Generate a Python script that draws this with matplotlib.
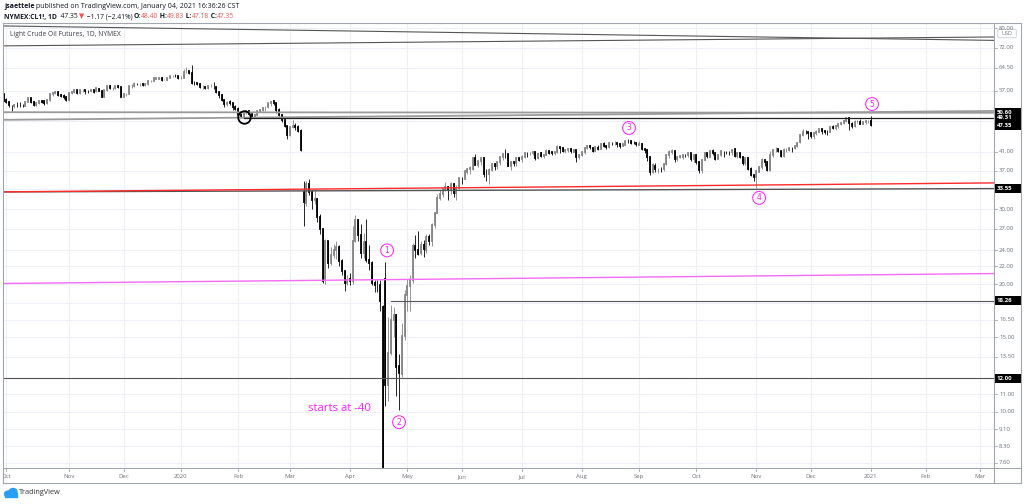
import numpy as np
import pandas as pd
import matplotlib
matplotlib.use("Agg")
import matplotlib.pyplot as plt
from matplotlib.patches import Rectangle, Ellipse, FancyBboxPatch
from matplotlib.transforms import Bbox

plt.rcParams['font.family'] = ['Open Sans', 'DejaVu Sans']

# ---------------- data (CL1! daily, 2019-09-30 .. 2021-01-04) ----------------
opens = [55.9,
 54.1, 53.6, 52.6, 52.4, 52.8, 52.8, 52.6, 52.6, 53.6, 54.7, 53.6, 52.8, 53.4, 53.9, 53.8, 53.3, 54.2, 56.0, 56.2, 56.7, 55.8, 55.5, 55.1,
 54.2, 56.2, 56.5, 57.2, 56.4, 57.1, 57.2, 56.9, 56.8, 57.1, 56.8, 57.7, 57.0, 55.2, 57.1, 58.6, 57.8, 58.0, 58.4, 58.1,
 55.2, 55.9, 56.1, 58.4, 58.4, 59.2, 59.0, 59.2, 58.8, 59.2, 60.1, 60.2, 60.9, 60.9, 61.2, 60.4, 60.5, 61.1, 61.7, 61.7, 61.7,
 61.1, 61.2, 63.1, 63.3, 62.7, 59.6, 59.6, 59.0, 58.1, 58.2, 57.8, 58.5, 58.5, 58.3, 56.7, 55.6, 54.2, 53.1, 53.5, 53.3, 52.1,
 51.6, 50.1, 49.6, 50.8, 51.0, 50.3, 49.6, 49.9, 51.2, 51.4, 52.0, 52.1, 53.3, 53.8, 53.4, 51.4, 49.9, 48.7, 47.1,
 44.8, 46.8, 47.2, 46.8, 45.9, 32.9, 31.1, 34.4, 33.0, 31.5, 31.7, 28.7, 27.0, 20.4, 25.2, 22.4, 23.4, 24.0, 24.5, 22.6, 21.5, 20.1,
 20.5, 20.3, 25.3, 28.3, 26.1, 23.6, 25.1, 22.8, 22.4, 20.1, 19.9, 19.9, 17.7, 20.6, 11.6, 13.8, 16.5, 16.9, 12.8, 12.3, 15.1,
 18.8, 19.8, 20.4, 24.6, 24.0, 23.6, 24.7, 24.1, 25.8, 25.3, 27.6, 29.4, 31.8, 32.5, 33.5, 33.9, 33.3, 34.4, 32.8, 33.7,
 35.5, 35.4, 36.8, 37.3, 37.4, 39.6, 38.2, 38.9, 39.6, 36.3, 36.3, 37.1, 38.4, 38.0, 38.8, 39.8, 40.5, 40.4, 38.0, 38.7, 38.5, 39.7,
 39.3, 39.8, 40.7, 40.6, 40.6, 40.9, 39.6, 40.6, 40.1, 40.3, 41.2, 40.8, 40.6, 40.8, 42.0, 41.9, 41.1, 41.3, 41.6, 41.0, 41.3, 39.9,
 40.3, 41.0, 41.7, 42.2, 41.9, 41.2, 41.9, 41.6, 42.7, 42.2, 42.0, 42.9, 42.9, 42.9, 42.8, 42.3, 42.6, 43.4, 43.4, 43.0, 43.0,
 42.6, 42.8, 41.5, 41.4, 39.8, 36.8, 38.0, 37.3, 37.3, 37.3, 38.3, 40.2, 41.0, 41.1, 39.3, 39.8, 39.9, 40.3, 40.3, 40.6, 39.3,
 40.2, 38.7, 37.1, 39.2, 40.7, 39.9, 41.2, 40.6, 39.4, 40.2, 41.0, 41.0, 40.9, 40.8, 41.5, 40.0, 40.6, 39.9, 38.6, 39.6, 37.4, 36.2,
 35.8, 36.8, 37.7, 39.2, 38.8, 37.1, 40.3, 41.4, 41.5, 41.1, 40.1, 41.3, 41.4, 41.8, 41.7, 42.2, 43.1, 44.9, 45.7, 45.5,
 45.3, 44.6, 45.3, 45.6, 46.3, 45.8, 45.6, 45.5, 46.8, 46.6, 47.0, 47.6, 47.8, 48.4, 49.1, 47.7, 47.0, 48.1, 48.2, 47.6, 48.0, 48.4,
 48.40]

highs = [56.0,
 54.9, 53.9, 52.9, 53.0, 53.7, 53.6, 53.2, 54.0, 55.0, 54.8, 53.8, 53.6, 54.2, 54.2, 54.1, 54.5, 56.0, 56.5, 56.9, 56.9, 56.0, 55.9, 55.3,
 56.3, 56.9, 57.5, 57.3, 57.6, 57.4, 57.3, 57.2, 57.3, 57.3, 57.9, 58.0, 57.2, 57.2, 58.7, 58.7, 58.2, 58.5, 58.7, 58.2,
 56.3, 56.4, 58.6, 59.0, 59.8, 59.5, 59.4, 59.5, 59.6, 60.4, 60.4, 61.1, 61.2, 61.4, 61.4, 60.8, 61.2, 61.8, 62.0, 62.3, 61.9,
 61.6, 64.1, 64.7, 63.5, 65.65, 60.1, 59.9, 59.3, 58.7, 58.4, 58.8, 59.1, 59.7, 58.3, 57.0, 55.9, 54.4, 54.0, 54.3, 53.4, 52.8,
 52.1, 50.6, 51.3, 51.4, 51.3, 50.6, 50.3, 51.5, 51.7, 52.2, 52.4, 53.4, 54.0, 53.9, 53.4, 51.8, 50.3, 48.9, 47.3,
 47.0, 48.7, 47.8, 47.4, 46.4, 34.9, 34.9, 35.3, 33.3, 33.4, 31.8, 29.3, 27.0, 25.5, 25.3, 24.4, 24.8, 25.2, 24.7, 22.9, 21.6, 21.0,
 21.2, 27.4, 29.1, 28.4, 27.7, 26.4, 28.4, 24.7, 22.7, 20.4, 20.4, 20.4, 17.9, 22.5, 16.7, 17.9, 17.7, 17.0, 13.7, 16.2, 19.4,
 20.5, 21.0, 25.0, 26.1, 26.7, 25.2, 25.4, 26.2, 26.3, 27.8, 29.5, 32.5, 33.3, 33.6, 34.7, 34.0, 34.8, 34.5, 34.2, 35.5,
 35.7, 37.1, 37.6, 37.9, 39.6, 40.4, 39.0, 39.6, 39.7, 37.3, 37.5, 38.5, 38.6, 39.0, 40.0, 40.6, 41.6, 40.6, 38.9, 39.0, 39.8, 39.8,
 40.2, 40.8, 41.0, 41.0, 41.1, 41.0, 40.6, 41.0, 40.5, 41.5, 41.4, 41.0, 41.0, 42.5, 42.1, 42.1, 41.6, 41.7, 41.8, 41.6, 41.3, 40.4,
 41.2, 41.9, 42.6, 42.4, 42.0, 42.0, 42.4, 42.9, 43.1, 42.5, 42.9, 43.2, 43.5, 43.0, 42.9, 43.0, 43.5, 43.8, 43.6, 43.4, 43.1,
 43.4, 42.9, 41.9, 41.5, 39.8, 38.5, 38.5, 37.6, 37.7, 38.5, 40.5, 41.3, 41.5, 41.2, 40.0, 40.3, 40.4, 40.5, 40.9, 40.7, 40.3,
 40.4, 38.9, 39.4, 40.9, 40.7, 41.4, 41.6, 40.6, 40.4, 41.3, 41.1, 41.1, 41.2, 41.6, 41.8, 40.8, 40.7, 39.9, 39.8, 39.6, 37.7, 36.2,
 37.1, 38.0, 39.5, 39.2, 38.9, 41.1, 41.6, 42.0, 41.8, 41.2, 41.7, 41.8, 42.1, 42.0, 42.4, 43.2, 45.2, 46.3, 46.0, 45.6,
 45.7, 45.4, 46.2, 46.6, 46.4, 45.9, 46.2, 47.0, 47.3, 47.3, 47.8, 48.0, 48.6, 49.3, 49.2, 48.0, 48.6, 48.6, 48.9, 48.4, 48.6, 48.6,
 49.83]

lows = [53.9,
 53.3, 52.1, 50.99, 52.0, 52.3, 52.2, 52.2, 52.4, 53.5, 53.3, 52.4, 52.6, 53.1, 53.4, 52.9, 53.2, 53.9, 55.3, 55.9, 55.4, 55.0, 54.6, 53.9,
 54.0, 55.9, 56.3, 56.1, 55.9, 56.6, 56.1, 56.3, 56.5, 56.4, 56.6, 56.9, 55.0, 55.0, 56.9, 57.4, 57.2, 57.6, 57.8, 55.0,
 55.1, 55.4, 56.0, 57.9, 58.2, 58.9, 58.6, 58.5, 58.4, 58.9, 59.9, 60.1, 60.6, 60.6, 60.2, 60.3, 60.4, 61.0, 61.4, 61.5, 60.6,
 60.6, 61.1, 62.6, 62.3, 59.2, 58.8, 58.9, 57.9, 57.6, 57.4, 57.6, 58.3, 57.7, 56.3, 54.8, 53.9, 52.1, 52.6, 52.9, 51.3, 51.3,
 49.9, 49.31, 49.5, 50.2, 50.0, 49.4, 49.4, 49.9, 50.9, 51.1, 51.2, 52.0, 52.6, 52.7, 50.4, 49.6, 48.2, 46.9, 44.0,
 44.6, 46.5, 46.2, 45.5, 41.1, 27.34, 30.6, 32.4, 30.0, 30.8, 28.0, 26.3, 20.1, 20.0, 21.8, 22.2, 23.0, 22.9, 22.1, 21.0, 19.27, 19.9,
 19.9, 20.0, 25.1, 25.3, 23.0, 23.0, 22.5, 21.6, 19.9, 19.2, 19.2, 17.3, -40.3, 10.3, 10.6, 13.6, 15.0, 10.9, 10.1, 12.1, 14.8,
 17.3, 17.3, 20.1, 23.0, 23.4, 23.4, 23.1, 23.6, 24.7, 24.6, 27.1, 29.4, 31.5, 32.0, 33.1, 31.6, 32.6, 32.1, 31.5, 33.4,
 34.4, 35.3, 36.4, 36.3, 37.2, 38.1, 37.7, 38.2, 35.8, 34.9, 34.4, 37.0, 37.1, 37.4, 38.2, 39.1, 39.5, 37.9, 37.1, 37.9, 38.0, 38.9,
 38.8, 39.7, 39.9, 40.2, 40.3, 39.1, 39.3, 39.9, 39.5, 40.2, 40.4, 40.3, 40.2, 40.7, 40.6, 40.8, 40.6, 40.8, 40.7, 40.9, 38.7, 39.4,
 40.1, 40.5, 41.6, 41.6, 40.9, 41.1, 41.3, 41.5, 42.0, 41.5, 41.8, 42.5, 42.5, 42.0, 41.9, 42.2, 42.5, 43.0, 42.7, 42.7, 42.3,
 42.4, 41.4, 40.7, 39.0, 36.1, 36.5, 36.8, 36.6, 36.8, 36.9, 38.1, 39.6, 40.5, 38.8, 38.9, 39.5, 39.3, 39.8, 39.9, 38.9, 38.7,
 38.3, 36.6, 36.6, 39.2, 39.5, 39.8, 40.3, 39.2, 39.3, 40.0, 39.8, 40.5, 40.3, 40.3, 39.9, 39.7, 39.5, 38.2, 38.2, 37.2, 35.9, 34.9,
 33.64, 36.7, 37.3, 38.0, 36.9, 37.0, 39.9, 41.0, 40.9, 39.8, 39.9, 40.8, 41.2, 40.9, 41.5, 42.0, 42.9, 44.7, 45.1, 43.9,
 44.1, 43.9, 44.8, 45.5, 45.1, 45.2, 44.9, 45.5, 46.3, 46.2, 46.6, 47.3, 47.6, 48.0, 46.2, 46.7, 46.8, 47.8, 47.5, 47.6, 47.7, 47.9,
 47.18]

closes = [54.07,
 53.62, 52.64, 52.45, 52.81, 52.75, 52.63, 52.59, 53.55, 54.70, 53.59, 52.81, 53.36, 53.93, 53.78, 53.31, 54.16, 55.97, 56.23, 56.66, 55.81, 55.54, 55.06, 54.18,
 56.20, 56.54, 57.23, 56.35, 57.15, 57.24, 56.86, 56.80, 57.12, 56.77, 57.72, 57.05, 55.21, 57.11, 58.58, 57.77, 58.01, 58.41, 58.11, 55.17,
 55.96, 56.10, 58.43, 58.43, 59.20, 59.02, 59.24, 58.76, 59.18, 60.07, 60.21, 60.94, 60.93, 61.22, 60.44, 60.52, 61.11, 61.68, 61.72, 61.68, 61.06,
 61.18, 63.05, 63.27, 62.70, 59.61, 59.56, 59.04, 58.08, 58.23, 57.81, 58.52, 58.54, 58.34, 56.74, 55.59, 54.19, 53.14, 53.48, 53.33, 52.14, 51.56,
 50.11, 49.61, 50.75, 50.95, 50.32, 49.57, 49.94, 51.17, 51.42, 52.05, 52.05, 53.29, 53.78, 53.38, 51.43, 49.90, 48.73, 47.09, 44.76,
 46.75, 47.18, 46.78, 45.90, 41.28, 31.13, 34.36, 32.98, 31.50, 31.73, 28.70, 26.95, 20.37, 25.22, 22.43, 23.36, 24.01, 24.49, 22.60, 21.51, 20.09, 20.48,
 20.31, 25.32, 28.34, 26.08, 23.63, 25.09, 22.76, 22.41, 20.11, 19.87, 19.87, 18.27, -37.63, 11.57, 13.78, 16.50, 16.94, 12.78, 12.34, 15.06, 18.84,
 19.78, 20.39, 24.56, 23.99, 23.55, 24.74, 24.14, 25.78, 25.29, 27.56, 29.43, 31.82, 32.50, 33.49, 33.92, 33.25, 34.35, 32.81, 33.71, 35.49,
 35.44, 36.81, 37.29, 37.41, 39.55, 38.19, 38.94, 39.60, 36.34, 36.26, 37.12, 38.38, 37.96, 38.84, 39.75, 40.46, 40.37, 38.01, 38.72, 38.49, 39.70, 39.27,
 39.82, 40.65, 40.63, 40.62, 40.90, 39.62, 40.55, 40.10, 40.29, 41.20, 40.75, 40.59, 40.81, 41.96, 41.90, 41.07, 41.29, 41.60, 41.04, 41.27, 39.92, 40.27,
 41.01, 41.70, 42.19, 41.95, 41.22, 41.94, 41.61, 42.67, 42.24, 42.01, 42.89, 42.89, 42.93, 42.82, 42.34, 42.62, 43.35, 43.39, 43.04, 42.97, 42.61,
 42.76, 41.51, 41.37, 39.77, 36.76, 38.05, 37.30, 37.33, 37.26, 38.28, 40.16, 40.97, 41.11, 39.31, 39.80, 39.93, 40.31, 40.25, 40.60, 39.29, 40.22,
 38.72, 37.05, 39.22, 40.67, 39.95, 41.19, 40.60, 39.43, 40.20, 41.04, 40.96, 40.88, 40.83, 41.46, 40.03, 40.64, 39.85, 38.56, 39.57, 37.39, 36.17, 35.79,
 36.81, 37.66, 39.15, 38.79, 37.14, 40.29, 41.36, 41.45, 41.12, 40.13, 41.34, 41.43, 41.82, 41.74, 42.15, 43.06, 44.91, 45.71, 45.53, 45.34,
 44.55, 45.28, 45.64, 46.26, 45.76, 45.60, 45.52, 46.78, 46.57, 46.99, 47.62, 47.82, 48.36, 49.10, 47.74, 47.02, 48.12, 48.23, 47.62, 48.00, 48.40, 48.52,
 47.35]

first_day = "2019-09-30"
last_axis_day = "2021-03-31"
holidays = ["2019-11-28", "2019-12-25", "2020-01-01", "2020-01-20", "2020-02-17",
            "2020-04-10", "2020-05-25", "2020-07-03", "2020-09-07", "2020-11-26",
            "2020-12-25", "2021-01-01"]
month_labels = ["Oct", "Nov", "Dec", "2020", "Feb", "Mar", "Apr", "May", "Jun", "Jul",
                "Aug", "Sep", "Oct", "Nov", "Dec", "2021", "Feb", "Mar"]

price_ticks = [80.0, 72.0, 64.5, 57.0, 41.0, 37.0, 30.0, 27.0, 24.0, 22.0, 20.0,
               16.5, 15.0, 13.5, 11.0, 10.0, 9.1, 8.3, 7.6]
hidden_grid = [48.5, 33.5, 18.0, 12.0]
price_labels = [50.60, 49.31, 47.35, 33.55, 18.26, 12.00]

# drawn lines: (x0, x1) in bar index, (p0, p1) in price
X_EDGES = (-0.2, 363.1)
top_line_a = (81.0, 74.9)
top_line_b = (72.7, 76.3)
gray_line_1 = (50.75, 50.6)
gray_line_2 = (48.7, 51.1)
black_level = 49.31
black_level_start = 88
red_line = (32.95, 34.6)
dark_line = (32.95, 33.55)
magenta_line = (20.06, 21.17)
level_1826 = 18.26
level_1826_start = 142
level_12 = 12.00
circle_pt = (88, 49.45)

wave_labels = ["1", "2", "3", "4", "5"]
wave_x = [140.6, 145.0, 229.3, 277.0, 318.4]
wave_p = [24.0, 9.46, 46.6, 31.9, 53.05]
note_text = "starts at -40"
note_pos = (111.6, 10.2)

# ---------------- calendar ----------------
cal = pd.bdate_range(first_day, last_axis_day)
hol = pd.to_datetime(holidays)
cal = cal[~cal.isin(hol)]
n = len(closes)
month_key = cal.year * 12 + cal.month
month_idx = [i for i in range(1, len(cal)) if month_key[i] != month_key[i - 1]]

# ---------------- figure ----------------
W, H = 1024, 504
fig = plt.figure(figsize=(W / 100, H / 100), dpi=100)
fig.patch.set_facecolor("white")
L, R, T, B = 3, 994, 23, 468
ax = fig.add_axes([L / W, 1 - B / H, (R - L) / W, (B - T) / H])
ax.set_yscale("log")
YMIN, YMAX = 7.38, 82.3
ax.set_ylim(YMIN, YMAX)
ax.set_xlim(*X_EDGES)
ax.minorticks_off()
for s in ax.spines.values():
    s.set_visible(False)
ax.set_xticks(month_idx)
ax.set_yticks(price_ticks + hidden_grid)
ax.tick_params(left=False, right=False, bottom=False, top=False,
               labelleft=False, labelbottom=False)
ax.grid(True, color="#edf1f7", lw=0.8)
ax.set_axisbelow(True)

# candles
o = np.array(opens); h = np.array(highs); l = np.array(lows); c = np.array(closes)
floor = 1.0
x = np.arange(n)
oc_lo = np.maximum(np.minimum(o, c), floor)
oc_hi = np.maximum(np.maximum(o, c), floor)
lo = np.maximum(l, floor)
up = c >= o
UPC, DNC = "#858585", "#000000"
for mask, col in ((up, UPC), (~up, DNC)):
    ax.vlines(x[mask], lo[mask], h[mask], color=col, lw=0.6, zorder=3)
    bc = ax.vlines(x[mask], oc_lo[mask], oc_hi[mask], color=col, lw=1.3, zorder=4)
    bc.set_capstyle("projecting")

# lines
ax.plot(X_EDGES, top_line_a, color="#555555", lw=0.8, zorder=5)
ax.plot(X_EDGES, top_line_b, color="#555555", lw=0.8, zorder=5)
ax.plot(X_EDGES, gray_line_1, color="#9a9a9a", lw=1.3, zorder=5)
ax.plot(X_EDGES, gray_line_2, color="#9a9a9a", lw=1.3, zorder=5)
ax.plot([black_level_start, X_EDGES[1]], [black_level, black_level], color="#222222", lw=0.9, zorder=5)
ax.plot(X_EDGES, dark_line, color="#555555", lw=1.0, zorder=5)
ax.plot(X_EDGES, red_line, color="#ff2a2a", lw=1.0, zorder=6)
ax.plot(X_EDGES, magenta_line, color="#f46cf4", lw=1.0, zorder=5)
ax.plot([level_1826_start, X_EDGES[1]], [level_1826, level_1826], color="#555555", lw=0.8, zorder=5)
ax.plot(X_EDGES, [level_12, level_12], color="#555555", lw=0.8, zorder=5)
ax.plot([circle_pt[0]], [circle_pt[1]], marker="o", ms=9, mfc="none", mec="#000000", mew=1.3, zorder=7)

MAG = "#ff1aff"
for lab, wx, wp in zip(wave_labels, wave_x, wave_p):
    ax.text(wx, wp, lab, color=MAG, fontsize=5.5, ha="center", va="center", zorder=8,
            family=["DejaVu Sans"],
            bbox=dict(boxstyle="circle,pad=0.25", fc="white", ec=MAG, lw=0.7))
ax.text(note_pos[0], note_pos[1], note_text, color=MAG, fontsize=8.2, ha="left", va="center", zorder=8)

# ---------------- overlay in pixel coords ----------------
ov = fig.add_axes([0, 0, 1, 1], zorder=10)
ov.set_xlim(0, W); ov.set_ylim(H, 0); ov.axis("off"); ov.patch.set_visible(False)

def ypix(p):
    return H - ax.transData.transform((0, p))[1]

def xpix(i):
    return ax.transData.transform((i, 1))[0]

FR = "#a3a6af"
ov.plot([L, 1021], [T, T], color=FR, lw=0.8)
ov.plot([L, 1021], [483, 483], color=FR, lw=0.8)
ov.plot([L, L], [T, 483], color=FR, lw=0.8)
ov.plot([1021, 1021], [T, 483], color=FR, lw=0.8)
ov.plot([R, R], [T, 483], color=FR, lw=0.8)
ov.plot([L, 1021], [B, B], color=FR, lw=0.8)

AX_TXT = "#6f717a"
for p in price_ticks:
    yp = ypix(p)
    ov.plot([R, R + 3], [yp, yp], color=FR, lw=0.6)
    ov.text(R + 5, yp, f"{p:.2f}", fontsize=4.3, color=AX_TXT, ha="left", va="center")

# USD box
ov.add_patch(FancyBboxPatch((998, 29.5), 18, 8, boxstyle="round,pad=0.3,rounding_size=1.5",
                            fc="white", ec="#c9cbd1", lw=0.6))
ov.text(1007, 33.6, "USD", fontsize=3.9, color=AX_TXT, ha="center", va="center")

# price label boxes
for p in price_labels:
    yp = ypix(p)
    ov.add_patch(Rectangle((R, yp - 4.6), 1021 - R, 9.2, fc="#000000", ec="none"))
for p in price_labels:
    yp = ypix(p)
    ov.text(R + 3, yp, f"{p:.2f}", fontsize=4.3, color="white", ha="left", va="center",
            weight="bold")

# date labels
clip = Bbox.from_extents(L, 0, 1021, H)
for i, lab in zip(month_idx, month_labels):
    xp = xpix(i)
    ov.plot([xp, xp], [B, B + 2.5], color=FR, lw=0.6)
    t = ov.text(xp, 476.5, lab, fontsize=4.3, color=AX_TXT, ha="center", va="center")
    t.set_clip_box(clip)
    t.set_clip_on(True)

# header
fig.canvas.draw()
rend = fig.canvas.get_renderer()

def seq(x0, y0, parts, size=5.0):
    xcur = x0
    for txt, col, wt in parts:
        t = ov.text(xcur, y0, txt, fontsize=size, color=col, weight=wt, ha="left", va="center")
        bb = t.get_window_extent(rend)
        xcur += bb.width

DARK = "#131722"
RED = "#ef5350"
seq(4, 6.5, [("jsaettele", DARK, "bold"),
             (" published on TradingView.com, January 04, 2021 16:36:26 CST", DARK, "normal")])
seq(4, 17, [("NYMEX:CL1!, 1D", DARK, "bold"), ("  47.35 ", DARK, "normal"), ("\u25bc", RED, "normal"),
            (" \u22121.17 (\u22122.41%) ", DARK, "normal"),
            ("O:", DARK, "bold"), ("48.40", RED, "normal"),
            (" H:", DARK, "bold"), ("49.83", RED, "normal"),
            (" L:", DARK, "bold"), ("47.18", RED, "normal"),
            (" C:", DARK, "bold"), ("47.35", RED, "normal")], size=4.9)
ov.text(10, 35, "Light Crude Oil Futures, 1D, NYMEX", fontsize=4.9, color="#3c3f48",
        ha="left", va="center")

# TradingView logo
BLUE = "#2a9df4"
ov.add_patch(Ellipse((8.5, 494), 8, 6, color=BLUE))
ov.add_patch(Ellipse((13, 492), 8, 7, color=BLUE))
ov.add_patch(Rectangle((5, 493), 12, 3.5, color=BLUE))
ov.text(19, 493, "TradingView", fontsize=5.2, color="#333333", ha="left", va="center")

fig.savefig("out.png", dpi=100, facecolor="white")
